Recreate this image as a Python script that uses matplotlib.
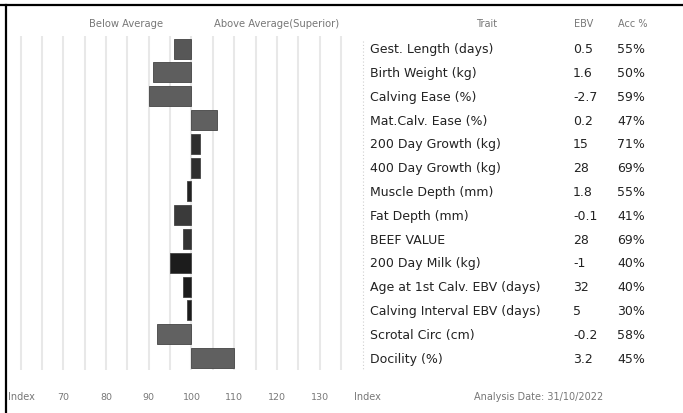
import matplotlib
matplotlib.use('Agg')
import matplotlib.pyplot as plt
from matplotlib.transforms import blended_transform_factory
from matplotlib.lines import Line2D

# data
traits = ['Gest. Length (days)', 'Birth Weight (kg)', 'Calving Ease (%)',
          'Mat.Calv. Ease (%)', '200 Day Growth (kg)', '400 Day Growth (kg)',
          'Muscle Depth (mm)', 'Fat Depth (mm)', 'BEEF VALUE', '200 Day Milk (kg)',
          'Age at 1st Calv. EBV (days)', 'Calving Interval EBV (days)',
          'Scrotal Circ (cm)', 'Docility (%)']
ebv = ['0.5', '1.6', '-2.7', '0.2', '15', '28', '1.8', '-0.1', '28', '-1',
       '32', '5', '-0.2', '3.2']
acc = ['55%', '50%', '59%', '47%', '71%', '69%', '55%', '41%', '69%', '40%',
       '40%', '30%', '58%', '45%']
index_vals = [96, 91, 90, 106, 102, 102, 99, 96, 98, 95, 98, 99, 92, 110]
tick_vals = [70, 80, 90, 100, 110, 120, 130]
grid_vals = list(range(60, 136, 5))

bar_colors = ['#575757', '#5e5e5e', '#5e5e5e', '#606060', '#2e2e2e', '#2e2e2e',
              '#222222', '#3a3a3a', '#333333', '#1c1c1c', '#1c1c1c', '#1c1c1c',
              '#616161', '#606060']

plt.rcParams['font.family'] = ['DejaVu Sans']

W, H = 683, 414
fig = plt.figure(figsize=(W / 100, H / 100), dpi=100)

# bar axes: pixel 0..350 in x, 37..371 in y
ax = fig.add_axes([0, 1 - 371 / H, 350 / W, (371 - 37) / H])
px_per_unit = 4.27
x_center = 191.5
ax.set_xlim(100 - x_center / px_per_unit, 100 + (350 - x_center) / px_per_unit)
ax.set_ylim(13.5, -0.53)

for g in grid_vals:
    ax.axvline(g, color='#e8e8e8', lw=1.5, zorder=0)

rows = list(range(len(traits)))
ax.barh(rows, [v - 100 for v in index_vals], left=100, height=0.84,
        color=bar_colors, edgecolor='#444444', linewidth=0.6, zorder=2)

for s in ax.spines.values():
    s.set_visible(False)
ax.set_yticks([])
ax.set_xticks(tick_vals)
ax.set_xticklabels([str(t) for t in tick_vals], fontsize=6.8, color='#777777')
ax.tick_params(axis='x', length=0, pad=16)

# table text to the right
tr = blended_transform_factory(fig.transFigure, ax.transData)
for i, (t, e, a) in enumerate(zip(traits, ebv, acc)):
    fig.text(370 / W, i, t, transform=tr, fontsize=9, color='#222222', va='center')
    fig.text(573 / W, i, e, transform=tr, fontsize=9, color='#222222', va='center')
    fig.text(617 / W, i, a, transform=tr, fontsize=9, color='#222222', va='center')

# faint dotted separator
fig.add_artist(Line2D([363 / W, 363 / W], [1 - 42 / H, 1 - 370 / H],
                      color='#d0d0d0', lw=0.8, linestyle=(0, (1, 2))))

hdr_y = 1 - 24 / H
fig.text(126 / W, hdr_y, 'Below Average', fontsize=7.2, color='#777777', ha='center', va='center')
fig.text(277 / W, hdr_y, 'Above Average(Superior)', fontsize=7.2, color='#777777', ha='center', va='center')
fig.text(487 / W, hdr_y, 'Trait', fontsize=7, color='#777777', ha='center', va='center')
fig.text(574 / W, hdr_y, 'EBV', fontsize=7, color='#777777', ha='left', va='center')
fig.text(618 / W, hdr_y, 'Acc %', fontsize=7, color='#777777', ha='left', va='center')

bot_y = 1 - 397 / H
fig.text(8 / W, bot_y, 'Index', fontsize=7, color='#777777', va='center')
fig.text(354 / W, bot_y, 'Index', fontsize=7, color='#777777', va='center')
fig.text(474 / W, bot_y, 'Analysis Date: 31/10/2022', fontsize=7, color='#777777', va='center')

# border on top and left
fig.add_artist(Line2D([0, 1], [1 - 6 / H, 1 - 6 / H], color='black', lw=1.6))
fig.add_artist(Line2D([6 / W, 6 / W], [0, 1 - 6 / H], color='black', lw=1.6))

fig.savefig('out.png', dpi=100)
